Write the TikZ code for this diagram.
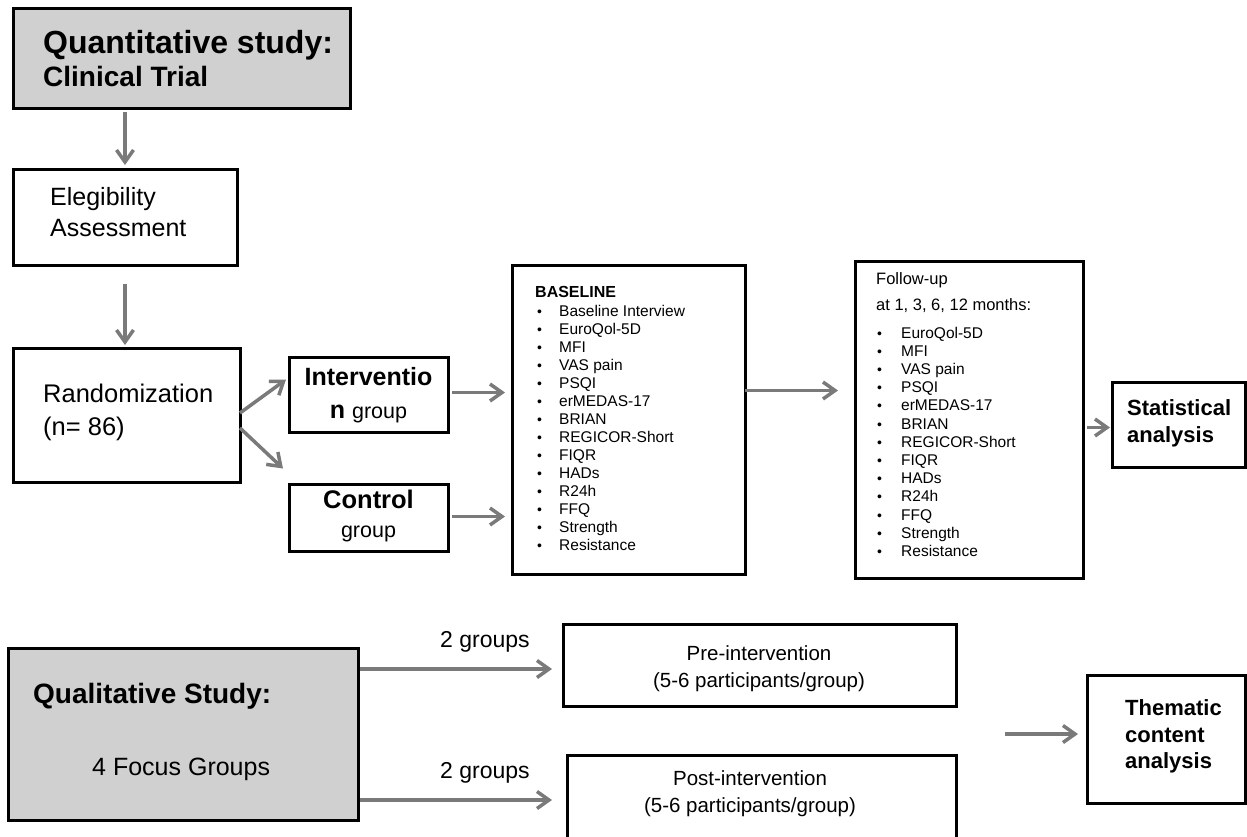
\documentclass[tikz,border=0pt]{standalone}
\usepackage{fontspec}
\setmainfont{Liberation Sans}
\usetikzlibrary{arrows.meta}
\definecolor{boxgray}{HTML}{D0D0D0}
\definecolor{arrgray}{HTML}{7A7A7A}
\newcommand{\myfs}[1]{\fontsize{#1}{#1}\selectfont}
\tikzset{
  box/.style={draw=black, line width=3pt, inner sep=0pt, outer sep=0pt, anchor=north west},
  arr/.style={draw=arrgray, line width=3.5pt, -{Straight Barb[length=12pt, width=17pt]}},
  lbl/.style={anchor=base west, inner sep=0pt},
  clbl/.style={anchor=base, inner sep=0pt},
}
\begin{document}
\begin{tikzpicture}[x=1pt,y=-1pt]
\useasboundingbox (0,0) rectangle (1247,836);
\fill[white] (0,0) rectangle (1247,836);
% boxes
\node[box, fill=boxgray, minimum width=337pt, minimum height=100pt] (quant) at (13,8) {};
\node[box, minimum width=224pt, minimum height=96pt] (elig) at (13,169) {};
\node[box, minimum width=227pt, minimum height=134pt] (rand) at (13,348) {};
\node[box, minimum width=159pt, minimum height=75pt] (interv) at (289,357) {};
\node[box, minimum width=159pt, minimum height=67pt] (ctrl) at (289,484) {};
\node[box, minimum width=233pt, minimum height=309pt] (base) at (512,265) {};
\node[box, minimum width=228pt, minimum height=317pt] (follow) at (855,261) {};
\node[box, minimum width=133pt, minimum height=85pt] (stat) at (1112,382) {};
\node[box, fill=boxgray, minimum width=350pt, minimum height=172pt] (qual) at (8,648) {};
\node[box, minimum width=393pt, minimum height=82pt] (pre) at (563,624) {};
\node[box, minimum width=389pt, minimum height=90pt] (post) at (567,755) {};
\node[box, minimum width=158pt, minimum height=128pt] (them) at (1087,675) {};
% texts
\node[lbl, font=\myfs{32}\bfseries] (tq1) at (43,53) {Quantitative study:};
\node[lbl, font=\myfs{28}\bfseries] (tq2) at (43,86) {Clinical Trial};
\node[lbl, font=\myfs{25}] (te1) at (50,205) {Elegibility};
\node[lbl, font=\myfs{25}] (te2) at (50,236) {Assessment};
\node[lbl, font=\myfs{25.5}] (tr1) at (43,402) {Randomization};
\node[lbl, font=\myfs{25.5}] (tr2) at (43,435) {(n= 86)};
\node[clbl, font=\myfs{25}\bfseries] (ti1) at (368.5,385) {Interventio};
\node[clbl] (ti2) at (368.5,418) {{\myfs{25}\bfseries n }{\myfs{21.5}group}};
\node[clbl, font=\myfs{25.5}\bfseries] (tc1) at (368.5,508) {Control};
\node[clbl, font=\myfs{21.5}] (tc2) at (368.5,537) {group};
\node[lbl, font=\myfs{16}\bfseries] (tb0) at (535,297) {BASELINE};
\foreach \t [count=\i from 0] in {Baseline Interview, EuroQol-5D, MFI, VAS pain, PSQI, erMEDAS-17, BRIAN, REGICOR-Short, FIQR, HADs, R24h, FFQ, Strength, Resistance}{
  \node[lbl, font=\myfs{14}] (bb\i) at (537,{316+18.0*\i}) {•};
  \node[lbl, font=\myfs{15.5}] (bt\i) at (559,{316+18.0*\i}) {\t};
}
\node[lbl, font=\myfs{16.5}] (tf1) at (876,284) {Follow-up};
\node[lbl, font=\myfs{16.5}] (tf2) at (876,310) {at 1, 3, 6, 12 months:};
\foreach \t [count=\i from 0] in {EuroQol-5D, MFI, VAS pain, PSQI, erMEDAS-17, BRIAN, REGICOR-Short, FIQR, HADs, R24h, FFQ, Strength, Resistance}{
  \node[lbl, font=\myfs{14}] (fb\i) at (877,{338+18.2*\i}) {•};
  \node[lbl, font=\myfs{15.5}] (ft\i) at (901,{338+18.2*\i}) {\t};
}
\node[lbl, font=\myfs{22}\bfseries] (ts1) at (1127,415) {Statistical};
\node[lbl, font=\myfs{22}\bfseries] (ts2) at (1127,442) {analysis};
\node[lbl, font=\myfs{28}\bfseries] (tl1) at (33,703) {Qualitative Study:};
\node[lbl, font=\myfs{25}] (tl2) at (92,775) {4 Focus Groups};
\node[clbl, font=\myfs{20.5}] (tp1) at (759,660) {Pre-intervention};
\node[clbl, font=\myfs{20.5}] (tp2) at (759,687) {(5-6 participants/group)};
\node[clbl, font=\myfs{20.5}] (tpo1) at (750,785) {Post-intervention};
\node[clbl, font=\myfs{20.5}] (tpo2) at (750,812) {(5-6 participants/group)};
\node[lbl, font=\myfs{22}\bfseries] (th1) at (1125,715) {Thematic};
\node[lbl, font=\myfs{22}\bfseries] (th2) at (1125,742) {content};
\node[lbl, font=\myfs{22}\bfseries] (th3) at (1125,768) {analysis};
\node[lbl, font=\myfs{23}] (g1) at (440,647) {2 groups};
\node[lbl, font=\myfs{23}] (g2) at (440,778) {2 groups};
% connectors
\draw[arr, shorten <=4pt, shorten >=4pt] (quant.south -| elig.north) -- (elig.north);
\draw[arr, shorten <=19pt, shorten >=3pt] (elig.south) -- (elig.south |- rand.north);
\draw[arr] ([yshift=2pt]rand.east) -- ([xshift=-3pt,yshift=15pt]interv.west);
\draw[arr] ([yshift=-13pt]rand.east) -- ([xshift=-6pt,yshift=49pt]ctrl.west);
\draw[arr, shorten <=4pt, shorten >=7pt] ([yshift=2pt]interv.east) -- ([yshift=2pt]interv.east -| base.west);
\draw[arr, shorten <=4pt, shorten >=7pt] ([yshift=1pt]ctrl.east) -- ([yshift=1pt]ctrl.east -| base.west);
\draw[arr, shorten >=17pt] ([yshift=29pt]base.east) -- ([yshift=29pt]base.east -| follow.west);
\draw[arr, shorten <=4pt, shorten >=2pt] ([yshift=-3pt]stat.west -| follow.east) -- ([yshift=-3pt]stat.west);
\path ([yshift=-4pt]pre.west) coordinate (prein);
\draw[arr, shorten <=2pt, shorten >=11pt] (prein -| qual.east) -- (prein);
\draw[arr, shorten <=2pt, shorten >=15pt] (post.west -| qual.east) -- (post.west);
\coordinate (tstart) at (1005,734);
\draw[arr, shorten >=9pt] (tstart) -- (tstart -| them.west);
\end{tikzpicture}
\end{document}
